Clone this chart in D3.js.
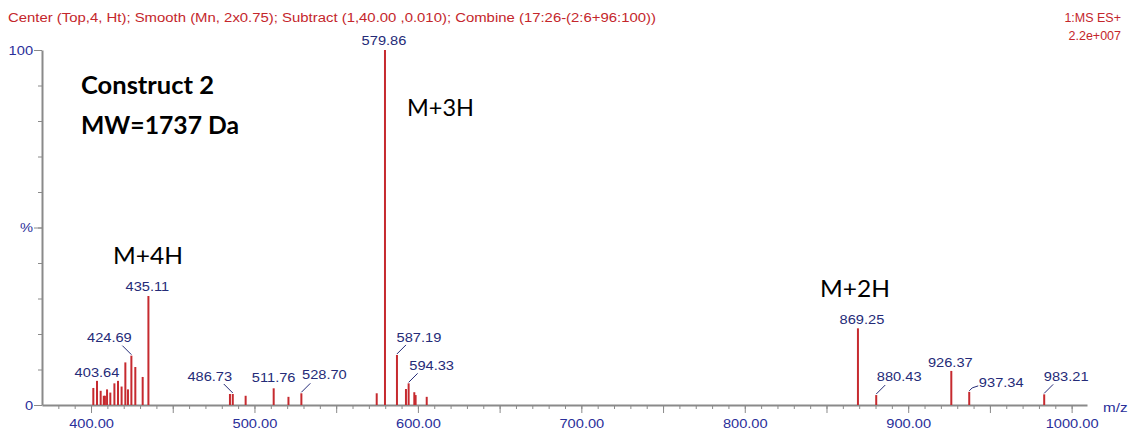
<!DOCTYPE html>
<html>
<head>
<meta charset="utf-8">
<script src="https://cdn.jsdelivr.net/npm/d3@7"></script>
<style>
  body { margin: 0; background: #fff; }
  svg { display: block; }
  .axis path, .axis line { stroke: #8a8a8a; }
  .axis text { fill: #2a2f9a; font-family: "Liberation Sans", Arial, sans-serif; font-size: 12.5px; }
</style>
</head>
<body>
<div id="chart"></div>
<script>
// spectrum peaks: m/z and relative intensity (%)
var peakMz = [401.4, 403.64, 405.9, 407.8, 408.5, 409.8, 411.8, 414.3, 416.5, 418.7,
  421.0, 422.6, 424.69, 427.1, 431.6, 435.11, 485.0, 486.73, 494.6, 511.76,
  520.8, 528.70, 574.8, 579.86, 587.19, 592.7, 594.33, 597.8, 598.6, 605.4,
  869.25, 880.43, 926.37, 937.34, 983.21];
var peakInt = [4.8, 6.8, 4.0, 2.6, 2.6, 4.4, 3.5, 6.1, 6.8, 5.2,
  12.0, 4.4, 13.9, 10.7, 7.9, 30.7, 3.1, 3.1, 2.6, 4.7,
  2.3, 3.3, 3.3, 100, 14.1, 4.5, 6.1, 3.6, 2.8, 2.3,
  21.6, 2.8, 9.6, 3.7, 3.0];

// peaks that carry an m/z label
var labelledMz = [579.86, 435.11, 424.69, 403.64, 486.73, 511.76, 528.70,
  587.19, 594.33, 869.25, 880.43, 926.37, 937.34, 983.21];

var xTickLabels = [400, 500, 600, 700, 800, 900, 1000];
var yTickLabels = ["0", "%", "100"];

var headerText = "Center (Top,4, Ht); Smooth (Mn, 2x0.75); Subtract (1,40.00 ,0.010); Combine (17:26-(2:6+96:100))";
var instrumentText = ["1:MS ES+", "2.2e+007"];
var titleLines = ["Construct 2", "MW=1737 Da"];
var ionLabels = ["M+4H", "M+3H", "M+2H"];

// label placement (px): offset of label centre from peak, gap above peak, leader line
var labelLayout = {
  "579.86": {dx: -1, dy: 5},
  "435.11": {dx: -1, dy: 5},
  "424.69": {dx: -22, dy: 14, leader: -1},
  "403.64": {dx: 0, dy: 4},
  "486.73": {dx: -23, dy: 13, leader: -1},
  "511.76": {dx: 0, dy: 6},
  "528.70": {dx: 23, dy: 14, leader: 1},
  "587.19": {dx: 22, dy: 13, leader: 1},
  "594.33": {dx: 23, dy: 13, leader: 1},
  "869.25": {dx: 4, dy: 4},
  "880.43": {dx: 23, dy: 14, leader: 1},
  "926.37": {dx: -1, dy: 4},
  "937.34": {dx: 32, dy: 5, leader: 2},
  "983.21": {dx: 22, dy: 13, leader: 1}
};

var width = 1130, height = 430;
var stretch = 1.17; // the software's small text is drawn wide

var x = d3.scaleLinear().domain([370, 1009.4]).range([42, 1087]);
var y = d3.scaleLinear().domain([0, 100]).range([405, 50]);

var svg = d3.select("#chart").append("svg")
  .attr("width", width)
  .attr("height", height);

svg.append("rect").attr("width", width).attr("height", height).attr("fill", "#fff");

function widen(sel) {
  sel.each(function () {
    var w = this.getComputedTextLength();
    if (w > 0) d3.select(this).attr("textLength", w * stretch).attr("lengthAdjust", "spacingAndGlyphs");
  });
}

// header
svg.append("text")
  .attr("x", 8).attr("y", 22)
  .attr("textLength", 648).attr("lengthAdjust", "spacingAndGlyphs")
  .style("font-family", "Liberation Sans, Arial, sans-serif")
  .style("font-size", "12.5px")
  .style("fill", "#c4262b")
  .text(headerText);

svg.selectAll(".instr")
  .data(instrumentText)
  .enter().append("text")
  .attr("class", "instr")
  .attr("x", 1121)
  .attr("y", function (d, i) { return 22 + i * 18; })
  .attr("text-anchor", "end")
  .style("font-family", "Liberation Sans, Arial, sans-serif")
  .style("font-size", "12.5px")
  .style("fill", "#c4262b")
  .text(function (d) { return d; });

// x axis: minor ticks every 10, longer at every 50, labels at 100
var minorX = d3.range(380, 1001, 10);
svg.append("g")
  .attr("class", "axis")
  .attr("transform", "translate(0," + y(0) + ")")
  .call(d3.axisBottom(x).tickValues(minorX).tickSize(4).tickSizeOuter(0).tickFormat(""))
  .select(".domain").attr("stroke-width", 2);

var majorX = d3.range(400, 1001, 50);
var gx = svg.append("g")
  .attr("class", "axis")
  .attr("transform", "translate(0," + y(0) + ")")
  .call(d3.axisBottom(x).tickValues(majorX).tickSize(8).tickSizeOuter(0).tickPadding(6)
    .tickFormat(function (d) { return xTickLabels.indexOf(d) >= 0 ? d3.format(".2f")(d) : ""; }));
gx.select(".domain").remove();
gx.selectAll("text").call(widen);

svg.append("text")
  .attr("x", 1103).attr("y", 412)
  .style("font-family", "Liberation Sans, Arial, sans-serif")
  .style("font-size", "13px")
  .style("fill", "#2a2f9a")
  .text("m/z")
  .call(widen);

// y axis
svg.append("g")
  .attr("class", "axis")
  .attr("transform", "translate(" + x(370) + ",0)")
  .call(d3.axisLeft(y).tickValues(d3.range(0, 101, 10)).tickSize(4).tickSizeOuter(0).tickFormat(""))
  .select(".domain").attr("stroke-width", 2);

var gy = svg.append("g")
  .attr("class", "axis")
  .attr("transform", "translate(" + x(370) + ",0)")
  .call(d3.axisLeft(y).tickValues([0, 50, 100]).tickSize(8).tickSizeOuter(0).tickPadding(1)
    .tickFormat(function (d, i) { return yTickLabels[i]; }));
gy.select(".domain").remove();
gy.selectAll("text").call(widen);

// peaks
var peaks = peakMz.map(function (d, i) { return {mz: d, v: peakInt[i]}; });

svg.selectAll(".peak")
  .data(peaks)
  .enter().append("line")
  .attr("class", "peak")
  .attr("x1", function (d) { return x(d.mz); })
  .attr("x2", function (d) { return x(d.mz); })
  .attr("y1", y(0))
  .attr("y2", function (d) { return y(d.v); })
  .attr("stroke", "#c62a2f")
  .attr("stroke-width", 2);

// peak labels
var labelled = peaks.filter(function (d) { return labelledMz.indexOf(d.mz) >= 0; });

svg.selectAll(".plabel")
  .data(labelled)
  .enter().append("text")
  .attr("class", "plabel")
  .attr("x", function (d) { return x(d.mz) + labelLayout[d.mz.toFixed(2)].dx; })
  .attr("y", function (d) { return y(d.v) - labelLayout[d.mz.toFixed(2)].dy; })
  .attr("text-anchor", "middle")
  .style("font-family", "Liberation Sans, Arial, sans-serif")
  .style("font-size", "12.5px")
  .style("fill", "#252b78")
  .text(function (d) { return d.mz.toFixed(2); })
  .call(widen);

svg.selectAll(".leader")
  .data(labelled.filter(function (d) { return labelLayout[d.mz.toFixed(2)].leader; }))
  .enter().append("path")
  .attr("class", "leader")
  .attr("d", function (d) {
    var l = labelLayout[d.mz.toFixed(2)].leader;
    var px = x(d.mz), py = y(d.v) - 1;
    if (l === 2) return "M" + px + "," + py + "L" + (px + 3) + "," + (py - 3) + "L" + (px + 9) + "," + (py - 5);
    return "M" + px + "," + py + "L" + (px + l * 9) + "," + (py - 9);
  })
  .attr("fill", "none")
  .attr("stroke", "#252b78")
  .attr("stroke-width", 1);

// annotations
var anno = svg.append("g")
  .style("font-family", "Lato, 'Open Sans', sans-serif")
  .style("fill", "#000");

var titleLayout = [{x: 81, y: 94, w: 133}, {x: 81, y: 134, w: 158}];
anno.selectAll(".title")
  .data(titleLines)
  .enter().append("text")
  .attr("class", "title")
  .attr("x", function (d, i) { return titleLayout[i].x; })
  .attr("y", function (d, i) { return titleLayout[i].y; })
  .attr("textLength", function (d, i) { return titleLayout[i].w; })
  .attr("lengthAdjust", "spacingAndGlyphs")
  .style("font-size", "24px")
  .style("font-weight", "bold")
  .text(function (d) { return d; });

var ionLayout = [{x: 113, y: 264, w: 70}, {x: 407, y: 116, w: 67}, {x: 820, y: 297, w: 70}];
anno.selectAll(".ion")
  .data(ionLabels)
  .enter().append("text")
  .attr("class", "ion")
  .attr("x", function (d, i) { return ionLayout[i].x; })
  .attr("y", function (d, i) { return ionLayout[i].y; })
  .attr("textLength", function (d, i) { return ionLayout[i].w; })
  .attr("lengthAdjust", "spacingAndGlyphs")
  .style("font-size", "24px")
  .text(function (d) { return d; });
</script>
</body>
</html>
